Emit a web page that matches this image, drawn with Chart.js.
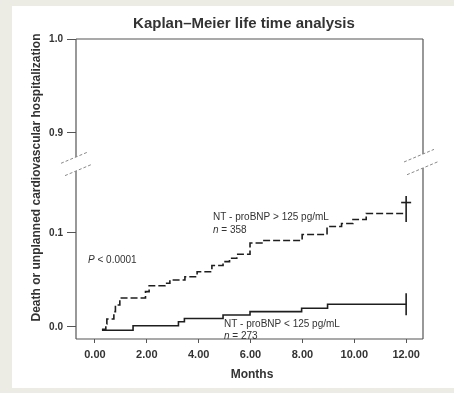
<!DOCTYPE html>
<html>
<head>
<meta charset="utf-8">
<script src="https://cdn.jsdelivr.net/npm/chart.js@4.4.1/dist/chart.umd.min.js"></script>
<style>
    html, body { margin: 0; padding: 0; background: #ecece4; }
    #wrap { width: 454px; height: 393px; }
</style>
</head>
<body>
<div id="wrap"><canvas id="km" width="454" height="393"></canvas></div>
<script>
// Kaplan-Meier: months where the cumulative event rate steps up
const highMonths = [0.27, 0.42, 0.46, 0.73, 0.79, 0.96, 1.95, 2.09, 2.70, 2.89, 3.47, 3.94, 4.51, 4.94, 5.19, 5.47, 5.98, 6.44, 7.99, 8.95, 9.51, 9.95, 10.46, 12.00];
const highRates = [-0.0025, 0.0032, 0.0085, 0.0163, 0.0234, 0.0309, 0.0376, 0.0439, 0.0465, 0.0500, 0.0535, 0.0588, 0.0654, 0.0695, 0.0731, 0.0773, 0.0894, 0.0920, 0.0984, 0.1069, 0.1101, 0.1144, 0.1207, 0.1207];
const lowMonths = [0.27, 1.47, 3.22, 3.45, 4.94, 5.98, 7.97, 8.97, 12.00];
const lowRates = [-0.0035, 0.0013, 0.0055, 0.0090, 0.0128, 0.0163, 0.0199, 0.0241, 0.0241];

// censored marks at the end of follow-up
const highCensorBar = [{ x: 12.00, y: 0.1255 }];
const highCensorTick = [{ x: 12.00, y: 0.1324 }];
const lowCensorBar = [{ x: 12.00, y: 0.0241 }];

const xTickValues = [0, 2, 4, 6, 8, 10, 12];
const yTickValues = [0.0, 0.1, 0.9, 1.0];
const yTickLabels = ['0.0', '0.1', '0.9', '1.0'];

// broken y axis: everything above the break is pulled down
const breakShift = 0.6936;
function toAxis(v) { return v >= 0.5 ? v - breakShift : v; }

const FONT = '"Liberation Sans", Arial, sans-serif';

function makeSteps(xs, ys) {
    return xs.map((m, i) => ({ x: m, y: ys[i] }));
}

const decor = {
    id: 'decor',
    beforeDraw(chart) {
        const ctx = chart.ctx;
        ctx.save();
        ctx.fillStyle = '#ffffff';
        ctx.fillRect(12, 6, 442, 382);
        ctx.restore();
    },
    afterDraw(chart) {
        const ctx = chart.ctx;
        const ca = chart.chartArea;
        ctx.save();

        // frame with the axis break
        ctx.strokeStyle = '#555';
        ctx.lineWidth = 1.2;
        ctx.beginPath();
        ctx.moveTo(ca.left, ca.top); ctx.lineTo(ca.right, ca.top);
        ctx.moveTo(ca.left, ca.bottom); ctx.lineTo(ca.right, ca.bottom);
        ctx.moveTo(ca.left, ca.top); ctx.lineTo(ca.left, 157);
        ctx.moveTo(ca.left, 171); ctx.lineTo(ca.left, ca.bottom);
        ctx.moveTo(ca.right, ca.top); ctx.lineTo(ca.right, 154);
        ctx.moveTo(ca.right, 168); ctx.lineTo(ca.right, ca.bottom);
        ctx.stroke();

        // break marks
        ctx.strokeStyle = '#8a8a8a';
        ctx.lineWidth = 1;
        ctx.setLineDash([3, 2]);
        const slope = -0.42;
        function slash(x0, y0, d1, d2) {
            ctx.beginPath();
            ctx.moveTo(x0 + d1, y0 + d1 * slope);
            ctx.lineTo(x0 + d2, y0 + d2 * slope);
            ctx.stroke();
        }
        slash(ca.left, 157, -15, 11);
        slash(ca.left, 171, -11, 16);
        slash(ca.right, 154, -19, 11);
        slash(ca.right, 168, -16, 16);
        ctx.setLineDash([]);

        // titles
        ctx.fillStyle = '#333';
        ctx.textAlign = 'center';
        ctx.textBaseline = 'alphabetic';
        ctx.font = 'bold 15px ' + FONT;
        ctx.fillText('Kaplan\u2013Meier life time analysis', 244, 28);
        ctx.font = 'bold 12px ' + FONT;
        ctx.fillText('Months', 252, 378);
        ctx.save();
        ctx.translate(40, 177.5);
        ctx.rotate(-Math.PI / 2);
        ctx.fillText('Death or unplanned cardiovascular hospitalization', 0, 0);
        ctx.restore();

        // annotations
        ctx.textAlign = 'left';
        function label(parts, x, y) {
            parts.forEach(p => {
                ctx.font = (p[1] ? 'italic ' : '') + '10px ' + FONT;
                ctx.fillText(p[0], x, y);
                x += ctx.measureText(p[0]).width;
            });
        }
        label([['NT - proBNP > 125 pg/mL']], 213, 220);
        label([['n', true], [' = 358']], 213, 232.5);
        label([['P', true], [' < 0.0001']], 88, 263);
        label([['NT - proBNP < 125 pg/mL']], 224, 327);
        label([['n', true], [' = 273']], 224, 339);

        ctx.restore();
    }
};

new Chart(document.getElementById('km'), {
    type: 'line',
    data: {
        datasets: [
            {
                label: 'NT-proBNP > 125 pg/mL',
                data: makeSteps(highMonths, highRates),
                stepped: 'before',
                borderColor: '#1e1e1e',
                borderWidth: 1.6,
                borderDash: [7, 3],
                pointRadius: 0,
                fill: false
            },
            {
                label: 'NT-proBNP < 125 pg/mL',
                data: makeSteps(lowMonths, lowRates),
                stepped: 'before',
                borderColor: '#1e1e1e',
                borderWidth: 1.6,
                pointRadius: 0,
                fill: false
            },
            {
                type: 'scatter',
                data: highCensorBar,
                pointStyle: 'line',
                rotation: 90,
                pointRadius: 13,
                borderColor: '#1e1e1e',
                borderWidth: 1.6
            },
            {
                type: 'scatter',
                data: highCensorTick,
                pointStyle: 'line',
                pointRadius: 5,
                borderColor: '#1e1e1e',
                borderWidth: 1.6
            },
            {
                type: 'scatter',
                data: lowCensorBar,
                pointStyle: 'line',
                rotation: 90,
                pointRadius: 11,
                borderColor: '#1e1e1e',
                borderWidth: 1.6
            }
        ]
    },
    options: {
        responsive: false,
        animation: false,
        layout: { padding: { left: 12, right: 31, top: 39, bottom: 5 } },
        plugins: {
            legend: { display: false },
            title: { display: false },
            tooltip: { enabled: false }
        },
        scales: {
            x: {
                type: 'linear',
                min: -0.73,
                max: 12.65,
                afterBuildTicks: axis => { axis.ticks = xTickValues.map(v => ({ value: v })); },
                afterFit: axis => { axis.height = 49; axis.paddingLeft = 0; axis.paddingRight = 0; },
                grid: { display: true, drawOnChartArea: false, drawTicks: true, tickLength: 4, color: '#555' },
                border: { display: false },
                ticks: {
                    padding: 5,
                    color: '#333',
                    font: { family: FONT, size: 11, weight: 'bold' },
                    callback: v => Number(v).toFixed(2)
                }
            },
            y: {
                type: 'linear',
                min: -0.0128,
                max: 0.3064,
                afterBuildTicks: axis => { axis.ticks = yTickValues.map(v => ({ value: toAxis(v) })); },
                afterFit: axis => { axis.width = 64; axis.paddingTop = 0; axis.paddingBottom = 0; },
                grid: { display: true, drawOnChartArea: false, drawTicks: true, tickLength: 9, color: '#555' },
                border: { display: false },
                ticks: {
                    padding: 4,
                    color: '#333',
                    font: { family: FONT, size: 10, weight: 'bold' },
                    callback: (v, i) => yTickLabels[i]
                }
            }
        }
    },
    plugins: [decor]
});
</script>
</body>
</html>
